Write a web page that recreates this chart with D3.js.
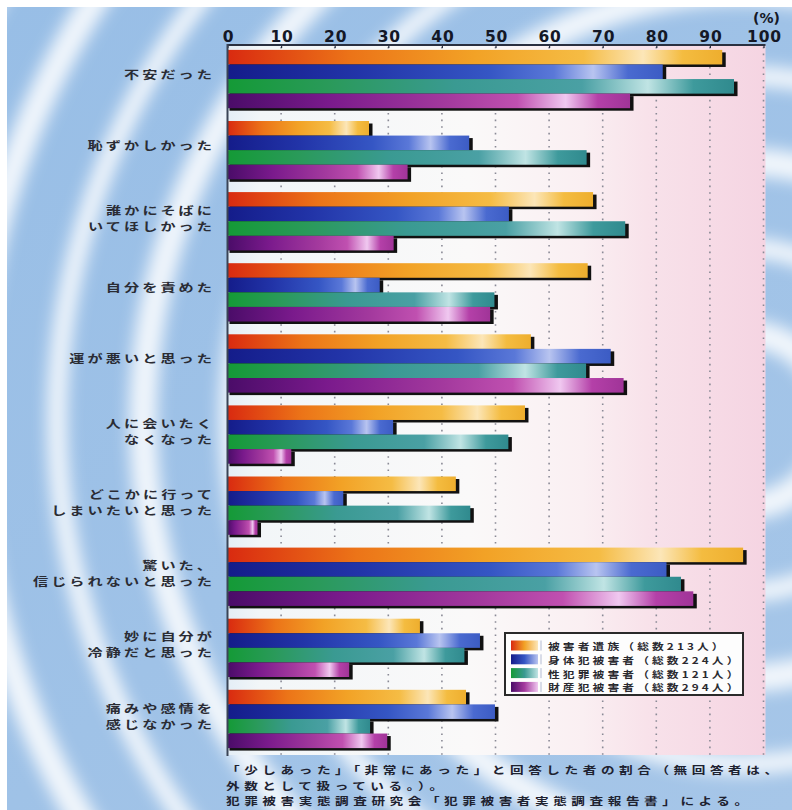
<!DOCTYPE html>
<html><head><meta charset="utf-8">
<script src="https://cdn.jsdelivr.net/npm/d3@7"></script>
<style>body{margin:0;background:#fff} svg{display:block}</style>
</head><body><svg id="c" width="792" height="810"></svg>
<script>
// ---- data ----
const categories = ["不安だった","恥ずかしかった","誰かにそばに\nいてほしかった","自分を責めた","運が悪いと思った","人に会いたく\nなくなった","どこかに行って\nしまいたいと思った","驚いた、\n信じられないと思った","妙に自分が\n冷静だと思った","痛みや感情を\n感じなかった"];
const seriesNames = ["被害者遺族（総数213人）","身体犯被害者（総数224人）","性犯罪被害者（総数121人）","財産犯被害者（総数294人）"];
const izoku   = [92.3, 26.4, 68.2, 67.2, 56.6, 55.5, 42.6, 96.2, 35.9, 44.5];
const shintai = [81.2, 45.1, 52.5, 28.4, 71.5, 30.9, 21.6, 81.9, 47.1, 49.9];
const seihan  = [94.5, 67.0, 74.2, 49.8, 66.9, 52.4, 45.3, 84.6, 44.2, 26.6];
const zaisan  = [75.1, 33.6, 31.0, 49.0, 73.9, 11.9,  5.6, 86.9, 22.7, 29.8];
const xTicks = [0,10,20,30,40,50,60,70,80,90,100];
const footnotes = ["「少しあった」「非常にあった」と回答した者の割合（無回答者は、","外数として扱っている。）。","犯罪被害実態調査研究会「犯罪被害者実態調査報告書」による。"];

const seriesValues = [izoku, shintai, seihan, zaisan];
const gradStops = [
  [[0,"#d92a10"],[0.25,"#ec7418"],[0.5,"#f2a226"],[0.72,"#f5bc44"],[0.84,"#fce6b8"],[0.92,"#f4bc40"],[1,"#eeae2e"]],
  [[0,"#141c8a"],[0.3,"#2234a8"],[0.6,"#3556c4"],[0.75,"#5a78d8"],[0.84,"#b8c4f0"],[0.92,"#4a6ad0"],[1,"#3c5cc4"]],
  [[0,"#149a36"],[0.2,"#2a9a5a"],[0.45,"#3a9a92"],[0.7,"#4aa0a4"],[0.83,"#c0e4e4"],[0.92,"#3e9a9c"],[1,"#308a8e"]],
  [[0,"#4a0c68"],[0.25,"#7a1a8c"],[0.55,"#a43a9e"],[0.72,"#c050b0"],[0.84,"#f0c8f0"],[0.92,"#b440a8"],[1,"#a03498"]]
];

const svg = d3.select("#c");
const defs = svg.append("defs");

// background
const bgGrad = defs.append("linearGradient").attr("id","bgG").attr("x1",0).attr("y1",0).attr("x2",1).attr("y2",1);
bgGrad.append("stop").attr("offset",0).attr("stop-color","#98bee6");
bgGrad.append("stop").attr("offset",1).attr("stop-color","#a6c6e8");
defs.append("filter").attr("id","blur").attr("x","-20%").attr("y","-20%").attr("width","140%").attr("height","140%")
  .append("feGaussianBlur").attr("stdDeviation",8);
defs.append("clipPath").attr("id","bgClip").append("rect").attr("x",7).attr("y",7).attr("width",785).attr("height",803);

const bg = svg.append("g").attr("clip-path","url(#bgClip)");
bg.append("rect").attr("x",7).attr("y",7).attr("width",785).attr("height",803).attr("fill","url(#bgG)");
const rings = d3.range(1,13).map(i => i*86);
bg.append("g").attr("filter","url(#blur)").selectAll("circle").data(rings).join("circle")
  .attr("cx",745).attr("cy",420).attr("r",d=>d)
  .attr("fill","none").attr("stroke","#ffffff").attr("stroke-opacity",0.85)
  .attr("stroke-width",(d,i)=> i%2 ? 20 : 28);

// scales
const x = d3.scaleLinear().domain([0,100]).range([227.5,763.5]);
const y0 = d3.scaleBand().domain(d3.range(categories.length)).range([43.5,754.5]).paddingInner(0.18).paddingOuter(0.09);
const y1 = d3.scaleBand().domain(d3.range(4)).range([0,y0.bandwidth()]);

// chart area
const areaGrad = defs.append("linearGradient").attr("id","areaG");
[[0,"#e4eef6"],[0.06,"#f2f6f8"],[0.45,"#faf9f9"],[0.66,"#faeff2"],[0.78,"#f8e2ea"],[1,"#f5d4e2"]]
  .forEach(s=>areaGrad.append("stop").attr("offset",s[0]).attr("stop-color",s[1]));
svg.append("rect").attr("x",x(0)).attr("y",45).attr("width",x(100)-x(0)+2).attr("height",710).attr("fill","url(#areaG)");

// grid
svg.append("g").selectAll("line").data(xTicks.slice(1)).join("line")
  .attr("x1",d=>x(d)).attr("x2",d=>x(d)).attr("y1",47).attr("y2",755)
  .attr("stroke","#8a8a96").attr("stroke-width",1.6).attr("stroke-dasharray","1.6,5");

// gradients for bars
gradStops.forEach((stops,i)=>{
  const g = defs.append("linearGradient").attr("id","bar"+i).attr("x1",0).attr("x2",1).attr("y1",0).attr("y2",0);
  stops.forEach(s=>g.append("stop").attr("offset",s[0]).attr("stop-color",s[1]));
  const gs = defs.append("linearGradient").attr("id","sw"+i).attr("x1",0).attr("x2",1);
  [stops[0],stops[2],stops[4]].forEach((s,k)=>gs.append("stop").attr("offset",k/2).attr("stop-color",s[1]));
});

// bars
const bars = svg.append("g");
categories.forEach((c,ci)=>{
  seriesValues.forEach((vals,si)=>{
    const yy = y0(ci)+y1(si);
    const h = y1.bandwidth();
    const w = x(vals[ci])-x(0);
    bars.append("rect").attr("x",x(0)+2).attr("y",yy+2.5).attr("width",w+1.5).attr("height",h).attr("fill","#111");
    bars.append("rect").attr("x",x(0)).attr("y",yy).attr("width",w).attr("height",h).attr("fill","url(#bar"+si+")");
  });
});

// axis
const axis = svg.append("g").attr("transform","translate(0,45)").call(d3.axisTop(x).tickValues(xTicks).tickSize(-3).tickFormat(""));
axis.select(".domain").attr("stroke","#2a3040").attr("stroke-width",2).attr("d",`M${x(0)},0H${x(100)+2}`);
axis.selectAll(".tick line").attr("stroke","#2a3040").attr("stroke-width",1.2);
svg.append("line").attr("x1",x(0)).attr("x2",x(0)).attr("y1",44).attr("y2",756).attr("stroke","#3a4456").attr("stroke-width",2);
svg.append("g").selectAll("text").data(xTicks).join("text")
  .attr("x",d=>x(d)+1).attr("y",37).attr("text-anchor","middle").attr("dominant-baseline","central")
  .attr("font-family","DejaVu Sans").attr("font-weight","bold").attr("font-size",15.5).attr("letter-spacing",0.8)
  .attr("fill","#141826").text(d=>d);
svg.append("text").attr("x",x(100)+3).attr("y",18).attr("text-anchor","middle").attr("dominant-baseline","central")
  .attr("font-family","DejaVu Sans").attr("font-weight","bold").attr("font-size",14).attr("fill","#141826").text("(%)");

// category labels (wide glyphs: horizontal scale)
const sx = 1.38, ls = 2.2;
const lab = svg.append("g").attr("font-family","Noto Sans CJK JP").attr("font-weight","bold").attr("font-size",11)
  .attr("fill","#2a2c34").attr("letter-spacing",ls).attr("text-anchor","end");
categories.forEach((c,ci)=>{
  const lines = c.split("\n");
  const cy = y0(ci)+y0.bandwidth()/2;
  lines.forEach((ln,li)=>{
    const yy = lines.length===1 ? cy-5 : cy-11+li*16;
    lab.append("text").attr("transform",`translate(${212+ls*sx},${yy}) scale(${sx},1)`)
      .attr("dominant-baseline","central").text(ln);
  });
});

// legend
const lg = svg.append("g");
lg.append("rect").attr("x",505).attr("y",633).attr("width",238).attr("height",62).attr("fill","#fdfdfd").attr("stroke","#2a2a2a").attr("stroke-width",2);
seriesNames.forEach((n,i)=>{
  const yy = 639+i*13.8;
  lg.append("rect").attr("x",511).attr("y",yy+1.5).attr("width",27).attr("height",10).attr("fill","url(#sw"+i+")");
  lg.append("rect").attr("x",540).attr("y",yy+1.5).attr("width",2).attr("height",10).attr("fill","#d8dce8");
  lg.append("text").attr("transform",`translate(548,${yy+7}) scale(1.25,1)`).attr("dominant-baseline","central")
    .attr("font-family","Noto Sans CJK JP").attr("font-weight","bold").attr("font-size",9.4).attr("letter-spacing",2.5)
    .attr("fill","#2a2a30").text(n);
});

// footnotes
svg.append("g").selectAll("text").data(footnotes).join("text")
  .attr("transform",(d,i)=>`translate(226,${770+i*15.5}) scale(1.3,1)`).attr("dominant-baseline","central")
  .attr("font-family","Noto Sans CJK JP").attr("font-weight","bold").attr("font-size",10.5).attr("letter-spacing",3.5)
  .attr("fill","#1e2230").text(d=>d);
</script></body></html>
